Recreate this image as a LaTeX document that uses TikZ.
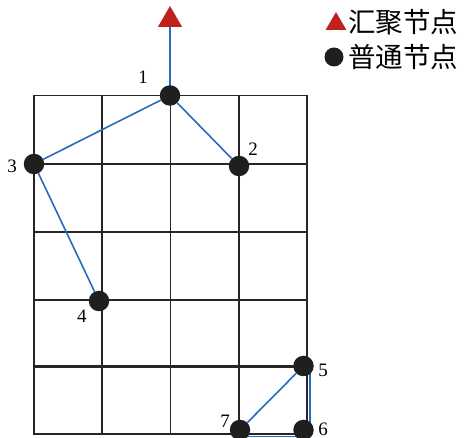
\documentclass[tikz,border=0pt]{standalone}
\usepackage{fontspec}
\setmainfont{Liberation Serif}
\newfontfamily\cjk{Noto Sans CJK SC}
\usetikzlibrary{shapes.geometric,backgrounds}

\definecolor{linkblue}{rgb}{0.15,0.42,0.74}
\definecolor{sinkred}{rgb}{0.75,0.13,0.11}

\tikzset{
  grid line/.style={line width=1.7pt,draw=black!85},
  thick grid/.style={line width=2.8pt,draw=black!85},
  sensor/.style={circle,fill=black!88,minimum size=20.5pt,inner sep=0pt},
  sink/.style={regular polygon,regular polygon sides=3,fill=sinkred,minimum size=28pt,inner sep=0pt},
  link/.style={line width=1.6pt,draw=linkblue},
  num/.style={font=\fontsize{19}{19}\selectfont},
  legend text/.style={font=\cjk\fontsize{27.5}{27.5}\selectfont,anchor=west,inner sep=0pt},
}

\begin{document}
\begin{tikzpicture}[x=1pt,y=-1pt]
  \useasboundingbox (0,0) rectangle (467,438);

  % nodes
  \node[sink] (s) at (170,20) {};
  \node[sensor] (n1) at (170,95.5) {};
  \node[sensor] (n2) at (239,166) {};
  \node[sensor] (n3) at (34,164) {};
  \node[sensor] (n4) at (99,301) {};
  \node[sensor] (n5) at (303.5,366) {};
  \node[sensor] (n6) at (303.5,430) {};
  \node[sensor] (n7) at (240,430) {};
  \coordinate (c5) at (310,370);
  \coordinate (c6) at (310,436.5);
  \coordinate (c7) at (245,436.5);

  \begin{scope}[on background layer]
    % grid
    \foreach \gx in {34,102.3,170.5,238.8,307}
      \draw[grid line] (\gx,95.5) -- (\gx,434);
    \foreach \gy in {95.5,164,300}
      \draw[grid line] (34,\gy) -- (307,\gy);
    \draw[grid line] (33.2,434) -- (307.8,434);
    \foreach \gy in {232,366.5}
      \draw[thick grid] (34,\gy) -- (307,\gy);
    % links
    \draw[link] (s.center) -- (n1.center);
    \draw[link] (n1) -- (n3);
    \draw[link] (n1) -- (n2);
    \draw[link] (n3) -- (n4);
    \draw[link] (n5) -- (n7);
    \draw[link] (c5) -- (c6) -- (c7);
  \end{scope}

  % labels
  \node[num] (l1) at (143,77) {1};
  \node[num] (l2) at (253,149) {2};
  \node[num] (l3) at (12,166) {3};
  \node[num] (l4) at (82,316) {4};
  \node[num] (l5) at (323,370) {5};
  \node[num] (l6) at (323,429) {6};
  \node[num] (l7) at (225,421) {7};

  % legend
  \node[sink,minimum size=24pt] (ks) at (336,24) {};
  \node[legend text] (kt1) at (348,22) {汇聚节点};
  \node[sensor,minimum size=19pt] (kc) at (334,57) {};
  \node[legend text] (kt2) at (348,57) {普通节点};
\end{tikzpicture}
\end{document}
